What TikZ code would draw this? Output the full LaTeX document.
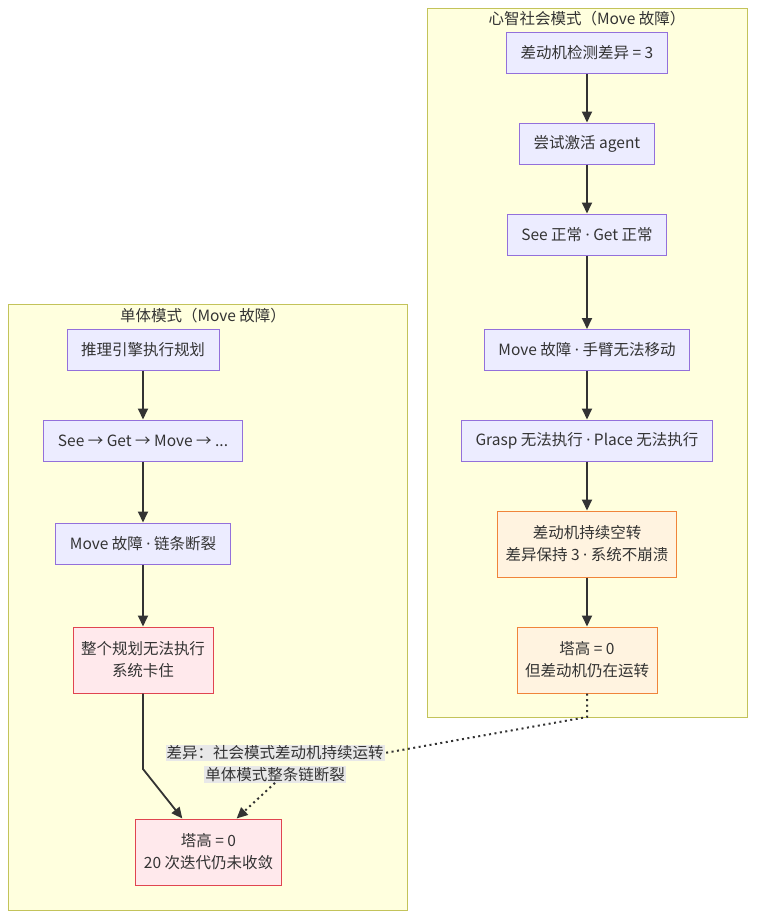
\documentclass[tikz,border=0pt]{standalone}
\usepackage{fontspec}
\setmainfont{Noto Sans CJK SC}
\newfontfamily\latinfont{Noto Sans}
\newcommand{\pdot}{{\latinfont ·}}
\usepackage{xcolor}
\usepackage{tikz}
\usetikzlibrary{arrows.meta,positioning}

\definecolor{clusterfill}{HTML}{FFFFDE}
\definecolor{clusterline}{HTML}{C3C35A}
\definecolor{procfill}{HTML}{ECECFF}
\definecolor{procline}{HTML}{9370DB}
\definecolor{failfill}{HTML}{FFE9EC}
\definecolor{failline}{HTML}{E04550}
\definecolor{spinfill}{HTML}{FFF3E0}
\definecolor{spinline}{HTML}{F0843A}
\definecolor{labelfill}{HTML}{E8E8E8}
\definecolor{ink}{HTML}{333333}

\begin{document}
\begin{tikzpicture}[
    % GLOBAL CFG
    x=1pt, y=-1pt,
    font=\fontsize{15.5}{22}\selectfont,
    text=ink,
    >={Triangle[length=11pt,width=10pt]},
    % Styles
    cluster/.style={% For the two mode boxes
        rectangle,
        draw=clusterline,
        fill=clusterfill,
        line width=1pt,
        anchor=north west,
        inner sep=0pt,
        },
    proc/.style={% Normal steps
        rectangle,
        draw=procline,
        fill=procfill,
        line width=1pt,
        inner xsep=14pt,
        minimum height=41pt,
        },
    fail/.style={% Steps where it breaks
        rectangle,
        draw=failline,
        fill=failfill,
        line width=1pt,
        align=center,
        inner xsep=8pt,
        minimum height=66pt,
        },
    spin/.style={% Steps where it keeps going
        rectangle,
        draw=spinline,
        fill=spinfill,
        line width=1pt,
        align=center,
        inner xsep=8pt,
        minimum height=66pt,
        },
    difflabel/.style={% Text on the dotted link
        fill=labelfill,
        inner sep=1pt,
        },
    flow/.style={% Solid arrows
        ->,
        draw=ink,
        line width=1.8pt,
        },
    diff/.style={% Dotted link between the modes
        draw=ink,
        line width=2pt,
        dash pattern=on 2pt off 3.5pt,
        },
    ]

    \useasboundingbox (0,0) rectangle (756,919);

    % The two boxes
    \node [cluster, minimum width=320pt, minimum height=709pt] (society) at (427,8) {};
    \node [cluster, minimum width=399pt, minimum height=606pt] (single) at (8,304) {};
    \node (societytitle) at (587,19) {心智社会模式（Move 故障）};
    \node (singletitle) at (203,316) {单体模式（Move 故障）};

    % Society of mind
    \node [proc] (r1) at (587,53) {差动机检测差异 = 3};
    \node [proc] (r2) at (587,143.5) {尝试激活 agent};
    \node [proc] (r3) at (587,234.5) {See 正常 \pdot{} Get 正常};
    \node [proc] (r4) at (587,350) {Move 故障 \pdot{} 手臂无法移动};
    \node [proc] (r5) at (587,440.5) {Grasp 无法执行 \pdot{} Place 无法执行};
    \node [spin] (r6) at (587,544) {差动机持续空转\\差异保持 3 \pdot{} 系统不崩溃};
    \node [spin] (r7) at (587,660) {塔高 = 0\\但差动机仍在运转};

    \draw [flow] (r1) -- (r2);
    \draw [flow] (r2) -- (r3);
    \draw [flow] (r3) -- (r4);
    \draw [flow] (r4) -- (r5);
    \draw [flow] (r5) -- (r6);
    \draw [flow] (r6) -- (r7);

    % Single engine
    \node [proc] (l1) at (143,349.5) {推理引擎执行规划};
    \node [proc] (l2) at (143,440.5) {See → Get → Move → ...};
    \node [proc] (l3) at (143,543.5) {Move 故障 \pdot{} 链条断裂};
    \node [fail] (l4) at (143,660) {整个规划无法执行\\系统卡住};
    \node [fail] (l5) at (208.5,852) {塔高 = 0\\20 次迭代仍未收敛};

    \draw [flow] (l1) -- (l2);
    \draw [flow] (l2) -- (l3);
    \draw [flow] (l3) -- (l4);
    \coordinate (bendL) at (143,769);
    \draw [flow] (l4) -- (bendL) -- (l5.128);

    % Dotted link with its text
    \node [difflabel] (diff1) at (275,753) {差异：社会模式差动机持续运转};
    \node [difflabel] (diff2) at (275,774.5) {单体模式整条链断裂};
    \coordinate (bendR) at (587,717);
    \draw [diff] (r7) -- (bendR) -- (diff1.east);
    \draw [diff, ->] (diff2.south) -- (l5.50);
\end{tikzpicture}
\end{document}
